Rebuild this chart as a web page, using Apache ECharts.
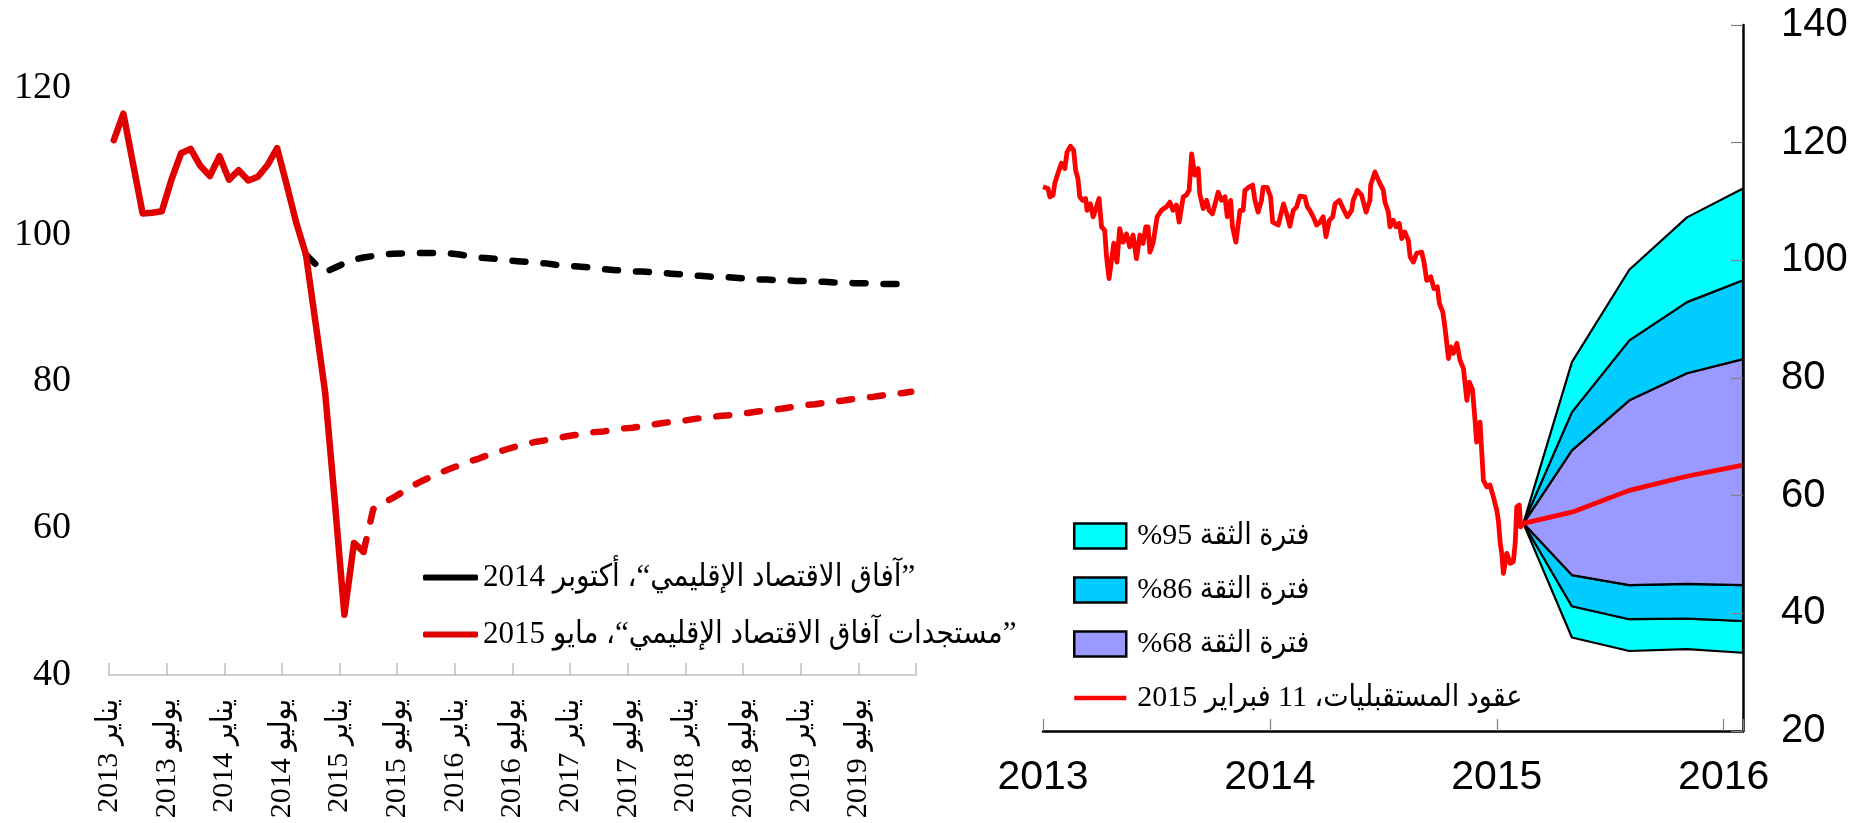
<!DOCTYPE html>
<html>
<head>
<meta charset="utf-8">
<script src="https://cdn.jsdelivr.net/npm/echarts@6/dist/echarts.min.js"></script>
<style>
  html, body { margin: 0; padding: 0; background: #fff; }
  #chart { width: 1874px; height: 823px; }
</style>
</head>
<body>
<div id="chart"></div>
<script>
// 左图：月度数据，从2013年1月开始（索引0）
var tickLabels = ['يناير 2013', 'يوليو 2013', 'يناير 2014', 'يوليو 2014', 'يناير 2015', 'يوليو 2015',
    'يناير 2016', 'يوليو 2016', 'يناير 2017', 'يوليو 2017', 'يناير 2018', 'يوليو 2018', 'يناير 2019', 'يوليو 2019'];
var nameOct2014 = '”آفاق الاقتصاد الإقليمي“، أكتوبر 2014';
var nameMay2015 = '”مستجدات آفاق الاقتصاد الإقليمي“، مايو 2015';

var actualPrice = [112.9, 116.5, 109.7, 102.9, 103.0, 103.2, 107.5, 111.1, 111.7, 109.4, 108.0, 110.7,
    107.5, 108.8, 107.4, 107.9, 109.5, 111.8, 106.8, 101.6, 97.3, 88.0, 78.5, 63.7,
    48.2, 58.0, 56.8];

var may2015Start = 26;
var may2015Forecast = [56.8, 62.6, 63.4, 64.1, 64.9, 65.7, 66.4, 67.0, 67.6, 68.1,
    68.6, 69.1, 69.5, 70.0, 70.4, 70.8, 71.2, 71.5, 71.8, 72.0,
    72.2, 72.5, 72.7, 72.9, 73.1, 73.2, 73.4, 73.6, 73.7, 73.9,
    74.1, 74.3, 74.5, 74.6, 74.8, 75.0, 75.1, 75.3, 75.4, 75.6,
    75.7, 75.9, 76.1, 76.2, 76.4, 76.6, 76.8, 76.9, 77.1, 77.3,
    77.4, 77.6, 77.8, 77.9, 78.1, 78.3, 78.4, 78.6];

var oct2014Start = 20;
var oct2014Forecast = [97.3, 96.0, 94.9, 95.5, 96.1, 96.6, 96.9, 97.1, 97.3, 97.4,
    97.45, 97.5, 97.5, 97.5, 97.5, 97.45, 97.3, 97.1, 96.9, 96.8,
    96.7, 96.5, 96.4, 96.3, 96.2, 96.1, 95.9, 95.8, 95.7, 95.6,
    95.5, 95.3, 95.2, 95.1, 95.0, 95.0, 94.9, 94.8, 94.7, 94.6,
    94.5, 94.4, 94.3, 94.2, 94.2, 94.1, 94.0, 93.9, 93.9, 93.8,
    93.8, 93.7, 93.7, 93.6, 93.6, 93.5, 93.5, 93.4, 93.4, 93.4,
    93.3, 93.3, 93.3, 93.2];

// 右图：期货价格（年份小数）和扇形区间
var nameBand95 = 'فترة الثقة 95%';
var nameBand86 = 'فترة الثقة 86%';
var nameBand68 = 'فترة الثقة 68%';
var nameFutures = 'عقود المستقبليات، 11 فبراير 2015';

var futYears = [2013.000, 2013.022, 2013.030, 2013.044, 2013.052, 2013.066, 2013.081, 2013.096, 2013.106, 2013.121,
    2013.135, 2013.144, 2013.154, 2013.162, 2013.174, 2013.188, 2013.194, 2013.209, 2013.221, 2013.236,
    2013.247, 2013.258, 2013.272, 2013.280, 2013.291, 2013.302, 2013.312, 2013.326, 2013.338, 2013.353,
    2013.368, 2013.382, 2013.397, 2013.412, 2013.427, 2013.441, 2013.453, 2013.463, 2013.471, 2013.485,
    2013.503, 2013.522, 2013.544, 2013.559, 2013.573, 2013.588, 2013.600, 2013.618, 2013.632, 2013.644,
    2013.655, 2013.669, 2013.684, 2013.691, 2013.706, 2013.721, 2013.732, 2013.747, 2013.757, 2013.772,
    2013.787, 2013.802, 2013.812, 2013.827, 2013.835, 2013.850, 2013.868, 2013.882, 2013.890, 2013.909,
    2013.924, 2013.934, 2013.948, 2013.963, 2013.970, 2013.988, 2014.003, 2014.012, 2014.037, 2014.060,
    2014.074, 2014.088, 2014.103, 2014.118, 2014.132, 2014.154, 2014.165, 2014.176, 2014.191, 2014.206,
    2014.221, 2014.235, 2014.247, 2014.262, 2014.277, 2014.287, 2014.306, 2014.323, 2014.341, 2014.360,
    2014.367, 2014.385, 2014.404, 2014.424, 2014.441, 2014.444, 2014.463, 2014.482, 2014.500, 2014.507,
    2014.522, 2014.529, 2014.544, 2014.556, 2014.570, 2014.581, 2014.595, 2014.610, 2014.618, 2014.632,
    2014.647, 2014.669, 2014.679, 2014.691, 2014.709, 2014.723, 2014.738, 2014.747, 2014.762, 2014.772,
    2014.787, 2014.797, 2014.809, 2014.824, 2014.838, 2014.853, 2014.868, 2014.879, 2014.893, 2014.904,
    2014.911, 2014.926, 2014.941, 2014.956, 2014.970, 2014.985, 2015.000, 2015.007, 2015.015, 2015.022,
    2015.029, 2015.044, 2015.059, 2015.073, 2015.081, 2015.088, 2015.099, 2015.105, 2015.117];
var futPrices = [112.5, 112.2, 110.8, 111.1, 113.1, 114.8, 116.5, 115.6, 118.4, 119.4,
    118.7, 115.3, 113.9, 110.8, 110.2, 110.5, 108.5, 109.6, 107.4, 109.1,
    110.5, 105.7, 105.1, 100.6, 96.9, 100.0, 102.9, 99.7, 105.4, 103.1,
    104.5, 102.3, 104.3, 100.3, 104.3, 102.9, 105.7, 105.7, 101.4, 102.9,
    107.4, 108.5, 109.1, 109.9, 108.5, 109.4, 106.5, 110.8, 111.1, 111.9,
    118.1, 114.5, 115.6, 111.3, 108.8, 110.2, 108.5, 107.9, 109.4, 111.6,
    110.2, 110.8, 107.4, 110.2, 105.7, 103.1, 108.5, 108.5, 111.9, 112.5,
    112.8, 110.2, 108.2, 110.2, 112.4, 112.4, 110.8, 106.5, 106.0, 109.6,
    107.9, 105.8, 108.5, 109.1, 110.9, 110.8, 109.1, 108.5, 107.4, 106.0,
    106.5, 107.4, 104.0, 106.8, 107.4, 109.6, 110.2, 108.8, 107.4, 108.5,
    110.2, 111.9, 111.1, 108.2, 110.2, 112.8, 115.0, 113.3, 111.9, 109.9,
    108.2, 105.7, 106.8, 105.7, 106.3, 103.7, 104.8, 103.4, 100.6, 99.7,
    101.2, 101.4, 99.7, 96.6, 97.2, 95.2, 95.5, 92.7, 91.2, 88.4,
    83.3, 85.3, 84.2, 85.9, 83.0, 81.6, 76.2, 79.3, 78.0, 72.8,
    69.1, 72.5, 62.6, 61.5, 61.8, 59.8, 57.5, 55.8, 51.9, 50.2,
    46.8, 50.2, 48.5, 48.8, 51.9, 58.1, 58.4, 54.7, 55.3];

var fanYears = [2015.117, 2015.331, 2015.584, 2015.838, 2016.085];
var median = [55.3, 57.2, 60.9, 63.3, 65.2];
var lower95 = [55.3, 35.9, 33.6, 33.9, 33.3];
var lower86 = [55.3, 41.2, 39.0, 39.1, 38.7];
var lower68 = [55.3, 46.5, 44.8, 45.0, 44.8];
var upper68 = [55.3, 67.7, 76.2, 80.8, 83.2];
var upper86 = [55.3, 74.2, 86.4, 92.9, 96.6];
var upper95 = [55.3, 82.7, 98.4, 107.3, 112.2];

var serif = "'Liberation Serif', 'DejaVu Sans Condensed', 'DejaVu Sans', serif";
var sans = "'Liberation Sans', Arial, 'DejaVu Sans', sans-serif";

// 阿拉伯文按从右到左排版
function rtl(s) {
    return '\u202B' + s + '\u202C';
}
// 月度数据点放在月份中间
function monthPoints(values, start) {
    return values.map(function (v, k) { return [start + k + 0.5, v]; });
}
function pairs(xs, ys) {
    return xs.map(function (x, k) { return [x, ys[k]]; });
}

var myChart = echarts.init(document.getElementById('chart'));

var dashed = [13, 18];
var series = [
    {
        name: nameOct2014, type: 'line', xAxisIndex: 0, yAxisIndex: 0,
        data: monthPoints(oct2014Forecast, oct2014Start),
        symbol: 'none', itemStyle: { color: '#000' },
        lineStyle: { color: '#000', width: 6.5, type: dashed, cap: 'round', join: 'round' }
    },
    {
        name: nameMay2015, type: 'line', xAxisIndex: 0, yAxisIndex: 0,
        data: monthPoints(actualPrice, 0), z: 3,
        symbol: 'none', itemStyle: { color: '#e00000' },
        lineStyle: { color: '#e00000', width: 6.5, cap: 'round', join: 'round' }
    },
    {
        name: nameMay2015, type: 'line', xAxisIndex: 0, yAxisIndex: 0,
        data: monthPoints(may2015Forecast, may2015Start), z: 3,
        symbol: 'none', itemStyle: { color: '#e00000' },
        lineStyle: { color: '#e00000', width: 6.5, type: dashed, cap: 'round', join: 'round' }
    }
];

// 扇形图：每个区间画成一个多边形（下界到上界）
var fanBands = [
    { name: nameBand95, lo: lower95, hi: lower86, color: '#00ffff' },
    { name: nameBand86, lo: lower86, hi: lower68, color: '#00ccff' },
    { name: nameBand68, lo: lower68, hi: upper68, color: '#9999ff' },
    { name: nameBand86, lo: upper68, hi: upper86, color: '#00ccff' },
    { name: nameBand95, lo: upper86, hi: upper95, color: '#00ffff' }
];
fanBands.forEach(function (band) {
    series.push({
        name: band.name, type: 'custom', xAxisIndex: 1, yAxisIndex: 1, z: 2, silent: true,
        itemStyle: { color: band.color },
        data: [[fanYears[0], band.lo[0]]],
        renderItem: function (params, api) {
            var pts = [];
            for (var j = 0; j < fanYears.length; j++) {
                pts.push(api.coord([fanYears[j], band.hi[j]]));
            }
            for (var m = fanYears.length - 1; m >= 0; m--) {
                pts.push(api.coord([fanYears[m], band.lo[m]]));
            }
            return {
                type: 'polygon',
                shape: { points: pts },
                style: { fill: band.color, stroke: '#000', lineWidth: 2.2, lineJoin: 'round' }
            };
        }
    });
});

series.push({
    name: nameFutures, type: 'line', xAxisIndex: 1, yAxisIndex: 1, z: 5,
    data: pairs(futYears, futPrices), symbol: 'none',
    itemStyle: { color: '#ff0000' },
    lineStyle: { color: '#ff0000', width: 4.8, join: 'round' }
});
series.push({
    name: nameFutures, type: 'line', xAxisIndex: 1, yAxisIndex: 1, z: 5,
    data: pairs(fanYears, median), symbol: 'none',
    itemStyle: { color: '#ff0000' },
    lineStyle: { color: '#ff0000', width: 4.8, join: 'round' }
});

var option = {
    animation: false,
    backgroundColor: '#fff',
    grid: [
        { left: 109, top: 88, width: 807, height: 587 },
        { left: 1043, top: 25, width: 700, height: 706 }
    ],
    legend: [
        {
            orient: 'vertical', left: 418, top: 557,
            itemWidth: 55, itemHeight: 6, itemGap: 26,
            data: [
                { name: nameOct2014, icon: 'roundRect', itemStyle: { color: '#000', borderWidth: 0 } },
                { name: nameMay2015, icon: 'roundRect', itemStyle: { color: '#e00000', borderWidth: 0 } }
            ],
            formatter: function (name) { return rtl(name); },
            textStyle: { color: '#000', fontFamily: serif, fontSize: 31, lineHeight: 31 }
        },
        {
            orient: 'vertical', left: 1068, top: 516,
            itemWidth: 52, itemHeight: 25, itemGap: 24,
            data: [
                { name: nameBand95, icon: 'rect', itemStyle: { color: '#00ffff', borderColor: '#000', borderWidth: 2.5 } },
                { name: nameBand86, icon: 'rect', itemStyle: { color: '#00ccff', borderColor: '#000', borderWidth: 2.5 } },
                { name: nameBand68, icon: 'rect', itemStyle: { color: '#9999ff', borderColor: '#000', borderWidth: 2.5 } },
                { name: nameFutures, icon: 'path://M0,0H56V5H0Z', itemStyle: { color: '#ff0000', borderWidth: 0 } }
            ],
            formatter: function (name) { return rtl(name); },
            textStyle: { color: '#000', fontFamily: serif, fontSize: 30, lineHeight: 30, padding: [0, 0, 0, 6] }
        }
    ],
    xAxis: [
        {
            type: 'value', gridIndex: 0, min: 0, max: 84, interval: 6,
            axisLine: { lineStyle: { color: '#bfbfbf', width: 1.5 } },
            axisTick: { inside: true, length: 12, lineStyle: { color: '#bfbfbf', width: 1.5 } },
            splitLine: { show: false },
            axisLabel: {
                rotate: 90, margin: 24, color: '#000', fontFamily: serif, fontSize: 30,
                formatter: function (v) {
                    var l = tickLabels[v / 6];
                    return l ? rtl(l) : '';
                }
            }
        },
        {
            type: 'value', gridIndex: 1, min: 2013, max: 2016.085, interval: 1, z: 10,
            axisLine: { lineStyle: { color: '#000', width: 2.5 } },
            axisTick: { inside: true, length: 12, lineStyle: { color: '#808080', width: 1.2 } },
            splitLine: { show: false },
            axisLabel: {
                margin: 26, color: '#000', fontFamily: sans, fontSize: 41,
                formatter: function (v) { return Number.isInteger(v) ? String(v) : ''; }
            }
        }
    ],
    yAxis: [
        {
            type: 'value', gridIndex: 0, min: 40, max: 120, interval: 20,
            axisLine: { show: false }, axisTick: { show: false }, splitLine: { show: false },
            axisLabel: { margin: 38, color: '#000', fontFamily: serif, fontSize: 38 }
        },
        {
            type: 'value', gridIndex: 1, position: 'right', min: 20, max: 140, interval: 20, z: 10,
            axisLine: { show: true, lineStyle: { color: '#000', width: 2.5 } },
            axisTick: { show: true, inside: true, length: 12, lineStyle: { color: '#808080', width: 1.2 } },
            splitLine: { show: false },
            axisLabel: { margin: 38, color: '#000', fontFamily: sans, fontSize: 40 }
        }
    ],
    series: series
};

myChart.setOption(option);
</script>
</body>
</html>
